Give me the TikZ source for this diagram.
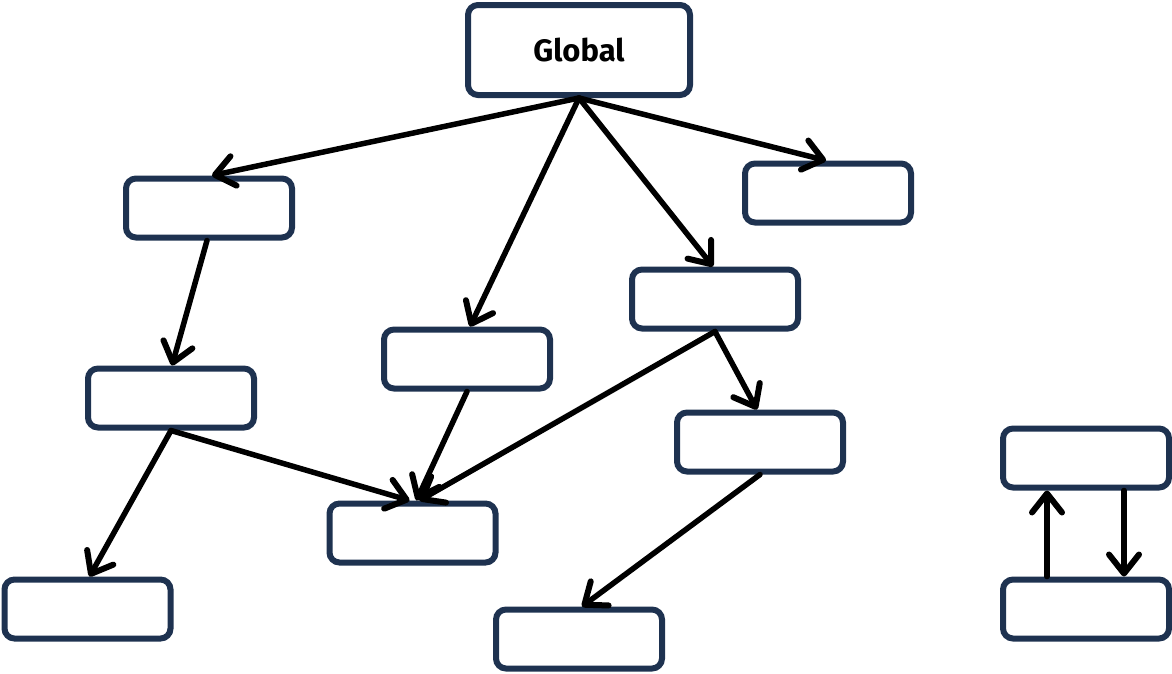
\documentclass[tikz,border=0pt]{standalone}
\usepackage{fontspec}
\setmainfont{Fira Sans}
\usetikzlibrary{arrows.meta}
\definecolor{boxc}{HTML}{1E3250}
\begin{document}
\begin{tikzpicture}[x=1pt,y=-1pt,
  box/.style={draw=boxc,line width=6pt,rounded corners=10pt,minimum width=166pt,minimum height=59pt,inner sep=0pt,fill=white},
  arr/.style={draw=black,line width=5.5pt,line cap=round,-{Straight Barb[round,length=19pt,width=30pt,line width=6pt]}}]
\useasboundingbox (0,0) rectangle (1172,673);
\node[box,minimum width=222pt,minimum height=90pt,font=\fontsize{31}{36}\selectfont\bfseries] (glob) at (579,50) {Global};
\node[box] (a) at (209,208) {};
\node[box] (b) at (828,193) {};
\node[box] (c) at (715,299) {};
\node[box] (d) at (467,359) {};
\node[box] (e) at (171,398) {};
\node[box] (f) at (760,442) {};
\node[box] (g) at (412.5,533) {};
\node[box] (h) at (87.5,609) {};
\node[box] (i) at (579,639) {};
\node[box] (j) at (1086,458) {};
\node[box] (k) at (1086,609) {};
\draw[arr] (glob.south) -- ([xshift=3pt]a.north);
\draw[arr] (glob.south) -- ([xshift=3pt]d.north);
\draw[arr] (glob.south) -- ([xshift=-2pt]c.north);
\draw[arr] (glob.south) -- ([xshift=-2pt]b.north);
\draw[arr] ([xshift=-2pt]a.south) -- ([xshift=1pt]e.north);
\draw[arr] (e.south) -- ([xshift=2pt]h.north);
\draw[arr] (e.south) -- ([xshift=-3pt]g.north);
\draw[arr] (d.south) -- ([xshift=4pt]g.north);
\draw[arr] (c.south) -- ([xshift=7pt]g.north);
\draw[arr] (c.south) -- ([xshift=-3pt]f.north);
\draw[arr] (f.south) -- ([xshift=3pt]i.north);
\draw[arr] ([xshift=-39pt]k.north) -- ([xshift=-39pt]j.south);
\draw[arr] ([xshift=38pt]j.south) -- ([xshift=38pt]k.north);
\end{tikzpicture}
\end{document}
